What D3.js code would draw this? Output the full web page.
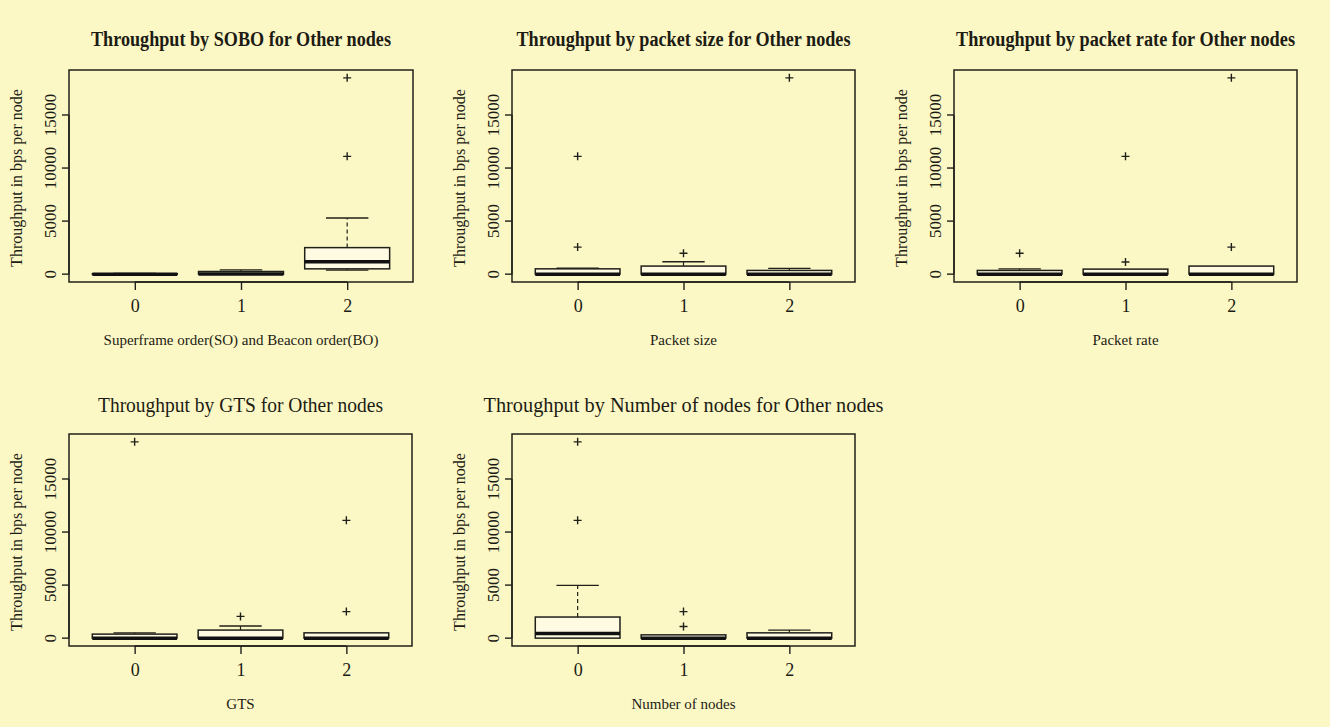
<!DOCTYPE html>
<html><head><meta charset="utf-8">
<script src="https://cdn.jsdelivr.net/npm/d3@7"></script>
<style>
html,body{margin:0;padding:0;background:#fcf8c6;}
svg{display:block;}
text{font-family:"Liberation Serif","Times New Roman",serif;fill:#1c1c14;}
</style></head>
<body>
<script>
// ---- data ----
const categories = ["0", "1", "2"];
const yTicks = [0, 5000, 10000, 15000];
const yLabel = "Throughput in bps per node";

const titles = [
  "Throughput by SOBO for Other nodes",
  "Throughput by packet size for Other nodes",
  "Throughput by packet rate for Other nodes",
  "Throughput by GTS for Other nodes",
  "Throughput by Number of nodes for Other nodes"
];
const xLabels = [
  "Superframe order(SO) and Beacon order(BO)",
  "Packet size",
  "Packet rate",
  "GTS",
  "Number of nodes"
];

// box statistics per category: [lower whisker, Q1, median, Q3, upper whisker]
const soboStats     = [[0, 0, 0, 30, 60], [0, 0, 20, 250, 400], [380, 500, 1170, 2500, 5290]];
const soboOutliers  = [[], [], [11100, 18500]];
const sizeStats     = [[0, 0, 0, 500, 550], [0, 0, 0, 760, 1170], [0, 0, 0, 350, 540]];
const sizeOutliers  = [[2550, 11100], [1970], [18500]];
const rateStats     = [[0, 0, 0, 350, 500], [0, 0, 0, 475, 475], [0, 0, 0, 760, 760]];
const rateOutliers  = [[1970], [1140, 11100], [2550, 18500]];
const gtsStats      = [[0, 0, 0, 380, 500], [0, 0, 0, 760, 1140], [0, 0, 0, 500, 500]];
const gtsOutliers   = [[18500], [2050], [2500, 11100]];
const nodesStats    = [[0, 0, 440, 1990, 4970], [0, 0, 0, 310, 310], [0, 0, 0, 500, 760]];
const nodesOutliers = [[11100, 18500], [1100, 2500], []];

// ---- layout ----
const W = 1330, H = 727;
const panels = [
  {stats: soboStats,  out: soboOutliers,  x0: 69,  x1: 413,  y0: 70,  y1: 282, bold: true,  tw: 300},
  {stats: sizeStats,  out: sizeOutliers,  x0: 512, x1: 855,  y0: 70,  y1: 282, bold: true,  tw: 334},
  {stats: rateStats,  out: rateOutliers,  x0: 954, x1: 1297, y0: 70,  y1: 282, bold: true,  tw: 339},
  {stats: gtsStats,   out: gtsOutliers,   x0: 69,  x1: 412,  y0: 434, y1: 646, bold: false, tw: 285},
  {stats: nodesStats, out: nodesOutliers, x0: 512, x1: 855,  y0: 434, y1: 646, bold: false, tw: 400}
];

const svg = d3.select("body").append("svg").attr("width", W).attr("height", H);
svg.append("rect").attr("width", W).attr("height", H).attr("fill", "#fcf8c6");

const ink = "#20201a";
// y range extended 4% like R
const allVals = [];
[soboStats, sizeStats, rateStats, gtsStats, nodesStats].forEach(s => s.forEach(r => allVals.push(...r)));
[soboOutliers, sizeOutliers, rateOutliers, gtsOutliers, nodesOutliers].forEach(s => s.forEach(r => allVals.push(...r)));
const vMin = d3.min(allVals), vMax = d3.max(allVals);
const pad = (vMax - vMin) * 0.04;

panels.forEach((p, i) => {
  const g = svg.append("g");
  const y = d3.scaleLinear().domain([vMin - pad, vMax + pad]).range([p.y1, p.y0]);
  const x = d3.scaleLinear().domain([0.38, categories.length + 0.62]).range([p.x0, p.x1]);
  const unit = x(2) - x(1);
  const bw = 0.8 * unit;
  const cx = (p.x0 + p.x1) / 2;

  // title
  g.append("text").attr("x", cx).attr("y", p.y0 - (p.bold ? 24 : 22))
    .attr("text-anchor", "middle")
    .attr("font-size", p.bold ? 20 : 20)
    .attr("font-weight", p.bold ? "bold" : "normal")
    .attr("textLength", p.tw).attr("lengthAdjust", "spacingAndGlyphs")
    .text(titles[i]);

  // boxes
  p.stats.forEach((s, k) => {
    const c = x(k + 1);
    const [lo, q1, med, q3, hi] = s;
    if (hi > q3) {
      g.append("line").attr("x1", c).attr("x2", c).attr("y1", y(q3)).attr("y2", y(hi))
        .attr("stroke", ink).attr("stroke-width", 1.2).attr("stroke-dasharray", "4,3");
      g.append("line").attr("x1", c - bw / 4).attr("x2", c + bw / 4).attr("y1", y(hi)).attr("y2", y(hi))
        .attr("stroke", ink).attr("stroke-width", 1.4);
    }
    if (lo < q1) {
      g.append("line").attr("x1", c).attr("x2", c).attr("y1", y(q1)).attr("y2", y(lo))
        .attr("stroke", ink).attr("stroke-width", 1.2).attr("stroke-dasharray", "4,3");
      g.append("line").attr("x1", c - bw / 4).attr("x2", c + bw / 4).attr("y1", y(lo)).attr("y2", y(lo))
        .attr("stroke", ink).attr("stroke-width", 1.4);
    }
    g.append("rect").attr("x", c - bw / 2).attr("width", bw)
      .attr("y", y(q3)).attr("height", Math.max(0, y(q1) - y(q3)))
      .attr("fill", "#fffbe2").attr("stroke", ink).attr("stroke-width", 1.5);
    g.append("line").attr("x1", c - bw / 2).attr("x2", c + bw / 2).attr("y1", y(med)).attr("y2", y(med))
      .attr("stroke", "#111").attr("stroke-width", 3.5);
    p.out[k].forEach(v => {
      g.append("path").attr("d", `M${c - 4},${y(v)}H${c + 4}M${c},${y(v) - 4}V${y(v) + 4}`)
        .attr("stroke", ink).attr("stroke-width", 1.4).attr("fill", "none");
    });
  });

  // frame
  g.append("rect").attr("x", p.x0).attr("y", p.y0).attr("width", p.x1 - p.x0).attr("height", p.y1 - p.y0)
    .attr("fill", "none").attr("stroke", ink).attr("stroke-width", 1.5);

  // y axis
  const ya = g.append("g").attr("transform", `translate(${p.x0},0)`)
    .call(d3.axisLeft(y).tickValues(yTicks).tickSize(7).tickPadding(6).tickFormat(d3.format("d")));
  ya.select(".domain").attr("d", `M0,${y(yTicks[0])}V${y(yTicks[yTicks.length - 1])}`).attr("stroke", ink).attr("stroke-width", 1.4);
  ya.selectAll(".tick line").attr("stroke", ink).attr("stroke-width", 1.4);
  ya.selectAll(".tick text").attr("font-size", 17).attr("font-family", "Liberation Serif")
    .attr("fill", "#1c1c14").attr("x", 0).attr("y", 0)
    .attr("text-anchor", "middle").attr("dy", null)
    .each(function(d) { d3.select(this).attr("transform", `translate(-13,${y(d)}) rotate(-90)`); });
  ya.selectAll(".tick").attr("transform", null);
  ya.selectAll(".tick line").each(function(d) { d3.select(this).attr("y1", y(d)).attr("y2", y(d)); });

  // x axis
  const xa = g.append("g").attr("transform", `translate(0,${p.y1})`)
    .call(d3.axisBottom(x).tickValues(categories.map((c, k) => k + 1)).tickSize(8).tickPadding(9)
      .tickFormat((d, k) => categories[k]));
  xa.select(".domain").attr("d", `M${x(1)},0H${x(categories.length)}`).attr("stroke", ink).attr("stroke-width", 1.4);
  xa.selectAll(".tick line").attr("stroke", ink).attr("stroke-width", 1.4);
  xa.selectAll(".tick text").attr("font-size", 18).attr("font-family", "Liberation Serif").attr("fill", "#1c1c14");

  // x label
  g.append("text").attr("x", cx).attr("y", p.y1 + 63).attr("text-anchor", "middle")
    .attr("font-size", 15).text(xLabels[i]);
  // y label
  g.append("text").attr("transform", `translate(${p.x0 - 47},${(p.y0 + p.y1) / 2 + 2}) rotate(-90)`)
    .attr("text-anchor", "middle").attr("font-size", 16).text(yLabel);
});
</script>
</body></html>
